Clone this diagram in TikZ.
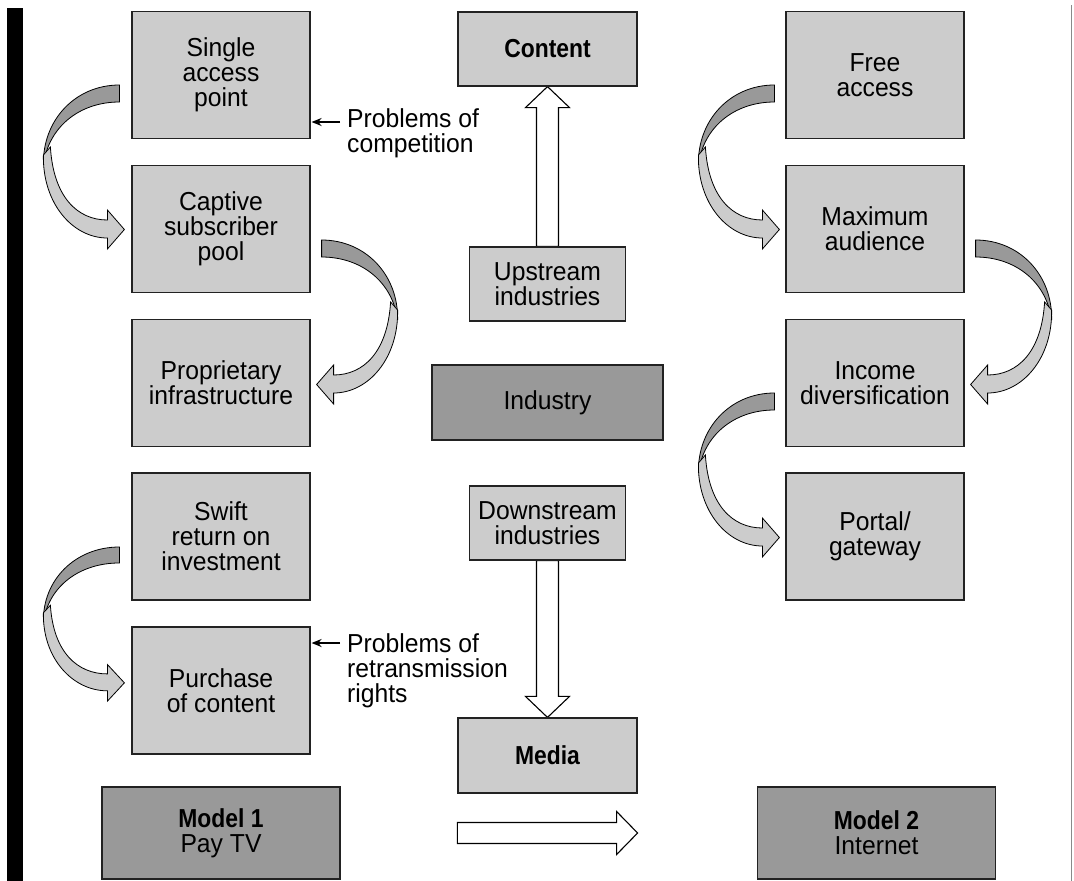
\documentclass[tikz,border=0pt]{standalone}
\usepackage{fontspec}
\setmainfont{Liberation Sans}[FakeStretch=0.95]
\newfontfamily\headfont{Liberation Sans}[FakeStretch=0.88]
\usetikzlibrary{calc,arrows.meta,backgrounds}
\definecolor{boxlight}{HTML}{CCCCCC}
\definecolor{boxdark}{HTML}{999999}
\definecolor{edgegray}{HTML}{222222}
\definecolor{rulegray}{HTML}{8A8A8A}

\newcommand\headtext[1]{{\headfont\bfseries\fontsize{26}{25}\selectfont #1}}

\tikzset{
  box/.style={draw=edgegray, line width=1.2pt, fill=boxlight, align=center,
    inner sep=0pt, text=black, font=\fontsize{26}{25}\selectfont},
  tallbox/.style={box, minimum width=178pt, minimum height=127pt},
  flatbox/.style={box, minimum width=179pt, minimum height=74pt},
  narrowbox/.style={box, minimum width=156pt, minimum height=74pt},
  darkbox/.style={box, fill=boxdark},
  hollow/.style={draw=black, fill=white, line width=1.1pt, line join=miter},
  note/.style={align=left, anchor=north west, inner sep=0pt,
    font=\fontsize{26}{25}\selectfont},
  pointer/.style={-{Stealth[length=10pt,width=8pt]}, line width=1.6pt, shorten >=1pt},
  ribbondark/.style={fill=boxdark, draw=black, line width=0.8pt},
  ribbonlight/.style={fill=boxlight, draw=black, line width=0.8pt},
}

% twisted ribbon arrow, drawn from its tail (top edge at the origin),
% bulging towards positive x and turning back to point at negative x
\newcommand\ribbonpath{%
  \filldraw[ribbondark] (0,0) .. controls (44,0) and (77,35) .. (76,80)
    .. controls (71,42) and (40,17) .. (0,17) -- cycle;
  \filldraw[ribbonlight] (76,70) .. controls (77,118) and (47,153) .. (12,153)
    -- (12,164) -- (-5,144.5) -- (12,125) -- (12,135)
    .. controls (42,135) and (66,112) .. (69,62) -- cycle;
}

\begin{document}
\begin{tikzpicture}[x=1pt,y=-1pt]
\useasboundingbox (0,0) rectangle (1074,881);

% frame rules
\fill[black] (7,8) rectangle (23,881);
\draw[rulegray, line width=1.5pt] (1071.5,5) -- (1071.5,881);

% model 1: pay TV
\node[tallbox] (sap) at (221,75)    {Single\\access\\point};
\node[tallbox] (csp) at (221,229)   {Captive\\subscriber\\pool};
\node[tallbox] (pin) at (221,383)   {Proprietary\\infrastructure};
\node[tallbox] (sri) at (221,536.5) {Swift\\return on\\investment};
\node[tallbox] (poc) at (221,690.5) {Purchase\\of content};
\node[darkbox, minimum width=238pt, minimum height=92pt] (m1) at (221,833)
  {\headtext{Model 1}\\Pay TV};

% industry chain
\node[flatbox] (content) at (547.5,49) {\headtext{Content}};
\node[narrowbox] (up) at (547.5,284) {Upstream\\industries};
\node[darkbox, minimum width=231pt, minimum height=75pt] (ind) at (547.5,402.5) {Industry};
\node[narrowbox] (down) at (547.5,523) {Downstream\\industries};
\node[flatbox, minimum height=75pt] (media) at (547.5,755.5) {\headtext{Media}};

% model 2: internet
\node[tallbox] (fa) at (875,75)    {Free\\access};
\node[tallbox] (ma) at (875,229)   {Maximum\\audience};
\node[tallbox] (id) at (875,383)   {Income\\diversification};
\node[tallbox] (pg) at (875,536.5) {Portal/\\gateway};
\node[darkbox, minimum width=238pt, minimum height=92pt] (m2) at (876.5,833)
  {\headtext{Model 2}\\Internet};

% side notes
\node[note] (p1) at (347,108) {Problems of\\competition};
\node[note] (p2) at (347,633) {Problems of\\retransmission\\rights};
\coordinate (p1s) at (340,122);
\coordinate (p2s) at (340,643);
\draw[pointer] (p1s) -- (p1s -| sap.east);
\draw[pointer] (p2s) -- (p2s -| poc.east);

\begin{scope}[on background layer]
  % hollow block arrows
  \draw[hollow] ($(up.north)+(-11,0)$) -- ($(content.south)+(-11,21)$)
    -- ($(content.south)+(-22,21)$) -- (content.south)
    -- ($(content.south)+(22,21)$) -- ($(content.south)+(11,21)$)
    -- ($(up.north)+(11,0)$) -- cycle;
  \draw[hollow] ($(down.south)+(-11,0)$) -- ($(media.north)+(-11,-21)$)
    -- ($(media.north)+(-22,-21)$) -- (media.north)
    -- ($(media.north)+(22,-21)$) -- ($(media.north)+(11,-21)$)
    -- ($(down.south)+(11,0)$) -- cycle;
\end{scope}

\coordinate (ra) at (media.west |- m1.center);
\coordinate (rb) at (media.east |- m1.center);
\draw[hollow] ($(ra)+(0,-10.5)$) -- ($(rb)+(-21,-10.5)$) -- ($(rb)+(-21,-21.5)$)
  -- (rb) -- ($(rb)+(-21,21.5)$) -- ($(rb)+(-21,10.5)$) -- ($(ra)+(0,10.5)$) -- cycle;

% twisted ribbon arrows
\begin{scope}[shift={($(sap.west)+(-12,10)$)},xscale=-1]\ribbonpath\end{scope}
\begin{scope}[shift={($(csp.east)+(11,11)$)}]\ribbonpath\end{scope}
\begin{scope}[shift={($(sri.west)+(-12,10.5)$)},xscale=-1,yscale=0.94]\ribbonpath\end{scope}
\begin{scope}[shift={($(fa.west)+(-11,10)$)},xscale=-1]\ribbonpath\end{scope}
\begin{scope}[shift={($(ma.east)+(11,11)$)}]\ribbonpath\end{scope}
\begin{scope}[shift={($(id.west)+(-11,10)$)},xscale=-1]\ribbonpath\end{scope}
\end{tikzpicture}
\end{document}
